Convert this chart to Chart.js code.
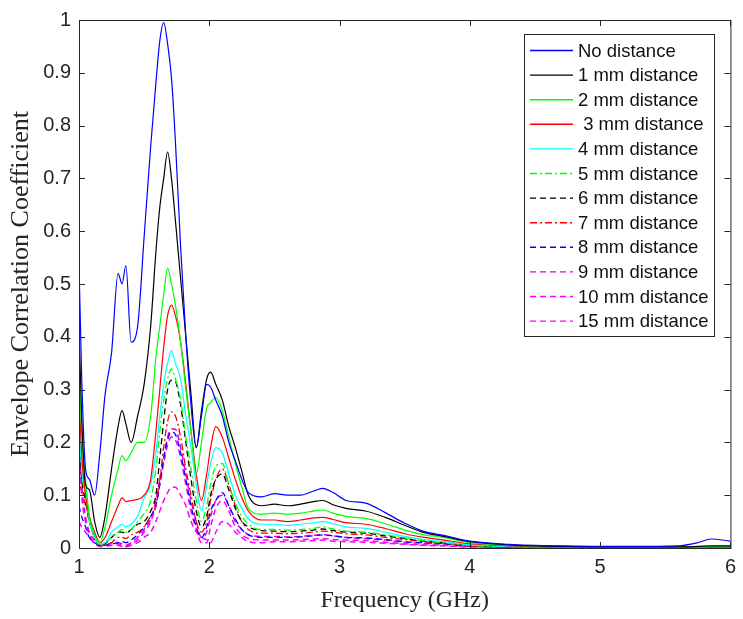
<!DOCTYPE html>
<html>
<head>
<meta charset="utf-8">
<script src="https://cdn.jsdelivr.net/npm/chart.js@4.4.1/dist/chart.umd.min.js"></script>
<style>
  html, body { margin: 0; padding: 0; background: #fff; }
  #wrap { width: 743px; height: 619px; }
</style>
</head>
<body>
<div id="wrap"><canvas id="ecc" width="743" height="619"></canvas></div>
<script>
// frequency grid (GHz)
const freq = [1.00, 1.02, 1.05, 1.08, 1.12, 1.16, 1.20, 1.25, 1.30, 1.33, 1.36, 1.40, 1.45, 1.50, 1.55,
  1.59, 1.62, 1.65, 1.68, 1.71, 1.74, 1.78, 1.82, 1.86, 1.90, 1.94, 1.98, 2.01, 2.05, 2.10,
  2.15, 2.20, 2.25, 2.30, 2.40, 2.50, 2.60, 2.70, 2.80, 2.87, 2.95, 3.05, 3.20, 3.35, 3.50,
  3.65, 3.80, 4.00, 4.30, 4.70, 5.20, 5.60, 5.75, 5.85, 6.00];

const noDist = [0.54, 0.33, 0.15, 0.13, 0.10, 0.18, 0.29, 0.37, 0.52, 0.50, 0.535, 0.39, 0.42, 0.59, 0.76,
  0.88, 0.96, 0.995, 0.955, 0.89, 0.77, 0.57, 0.40, 0.27, 0.19, 0.25, 0.31, 0.305, 0.28, 0.25,
  0.20, 0.165, 0.13, 0.105, 0.097, 0.103, 0.10, 0.10, 0.108, 0.113, 0.105, 0.09, 0.085, 0.067, 0.047,
  0.031, 0.024, 0.013, 0.007, 0.004, 0.003, 0.004, 0.010, 0.017, 0.013];
const mm1 = [0.42, 0.25, 0.12, 0.11, 0.05, 0.02, 0.06, 0.15, 0.23, 0.26, 0.235, 0.20, 0.25, 0.31, 0.42,
  0.56, 0.645, 0.70, 0.75, 0.70, 0.62, 0.51, 0.40, 0.29, 0.19, 0.26, 0.32, 0.333, 0.31, 0.28,
  0.23, 0.19, 0.145, 0.10, 0.08, 0.083, 0.08, 0.083, 0.088, 0.09, 0.082, 0.075, 0.07, 0.058, 0.043,
  0.029, 0.022, 0.012, 0.006, 0.003, 0.002, 0.002, 0.003, 0.004, 0.004];
const mm2 = [0.35, 0.22, 0.13, 0.06, 0.025, 0.01, 0.04, 0.10, 0.15, 0.175, 0.165, 0.18, 0.20, 0.20, 0.25,
  0.36, 0.42, 0.48, 0.53, 0.50, 0.46, 0.39, 0.30, 0.22, 0.14, 0.20, 0.265, 0.275, 0.285, 0.26,
  0.21, 0.16, 0.115, 0.075, 0.064, 0.066, 0.064, 0.066, 0.07, 0.072, 0.066, 0.06, 0.056, 0.046, 0.034,
  0.025, 0.02, 0.01, 0.005, 0.003, 0.002, 0.002, 0.002, 0.003, 0.003];
const mm3 = [0.30, 0.18, 0.10, 0.06, 0.03, 0.01, 0.02, 0.05, 0.08, 0.095, 0.088, 0.09, 0.092, 0.10, 0.13,
  0.22, 0.30, 0.38, 0.44, 0.46, 0.44, 0.39, 0.31, 0.22, 0.14, 0.09, 0.14, 0.19, 0.23, 0.21,
  0.17, 0.13, 0.095, 0.07, 0.053, 0.053, 0.05, 0.053, 0.057, 0.058, 0.054, 0.048, 0.045, 0.037, 0.027,
  0.02, 0.015, 0.008, 0.004, 0.002, 0.002, 0.002, 0.002, 0.002, 0.002];
const mm4 = [0.28, 0.15, 0.11, 0.05, 0.02, 0.008, 0.01, 0.03, 0.04, 0.045, 0.04, 0.045, 0.06, 0.095, 0.12,
  0.18, 0.25, 0.31, 0.35, 0.374, 0.35, 0.32, 0.25, 0.19, 0.12, 0.07, 0.12, 0.16, 0.19, 0.18,
  0.14, 0.10, 0.075, 0.055, 0.045, 0.045, 0.043, 0.045, 0.048, 0.05, 0.046, 0.04, 0.037, 0.03, 0.022,
  0.016, 0.012, 0.006, 0.003, 0.002, 0.002, 0.002, 0.002, 0.002, 0.002];
const mm5 = [0.27, 0.15, 0.10, 0.05, 0.02, 0.005, 0.01, 0.02, 0.03, 0.035, 0.03, 0.035, 0.05, 0.065, 0.09,
  0.15, 0.22, 0.28, 0.32, 0.339, 0.32, 0.28, 0.21, 0.15, 0.09, 0.05, 0.08, 0.12, 0.155, 0.16,
  0.12, 0.085, 0.06, 0.045, 0.035, 0.035, 0.034, 0.035, 0.037, 0.04, 0.036, 0.032, 0.03, 0.025, 0.019,
  0.014, 0.01, 0.005, 0.003, 0.002, 0.002, 0.002, 0.002, 0.002, 0.002];
const mm6 = [0.20, 0.13, 0.09, 0.05, 0.02, 0.005, 0.008, 0.02, 0.03, 0.03, 0.028, 0.035, 0.045, 0.05, 0.07,
  0.10, 0.17, 0.24, 0.30, 0.318, 0.315, 0.27, 0.20, 0.13, 0.07, 0.04, 0.06, 0.10, 0.13, 0.14,
  0.11, 0.075, 0.05, 0.04, 0.033, 0.032, 0.031, 0.032, 0.034, 0.036, 0.033, 0.03, 0.028, 0.023, 0.018,
  0.013, 0.01, 0.005, 0.003, 0.002, 0.002, 0.002, 0.002, 0.002, 0.002];
const mm7 = [0.12, 0.11, 0.08, 0.05, 0.02, 0.005, 0.005, 0.01, 0.02, 0.02, 0.018, 0.025, 0.03, 0.04, 0.06,
  0.08, 0.13, 0.19, 0.24, 0.258, 0.25, 0.21, 0.15, 0.10, 0.05, 0.03, 0.05, 0.09, 0.13, 0.15,
  0.12, 0.08, 0.05, 0.035, 0.028, 0.028, 0.027, 0.028, 0.03, 0.032, 0.03, 0.027, 0.025, 0.02, 0.016,
  0.012, 0.009, 0.004, 0.002, 0.002, 0.002, 0.002, 0.002, 0.002, 0.002];
const mm8 = [0.08, 0.06, 0.04, 0.02, 0.01, 0.005, 0.005, 0.008, 0.01, 0.012, 0.01, 0.015, 0.025, 0.04, 0.06,
  0.08, 0.12, 0.17, 0.205, 0.22, 0.215, 0.18, 0.13, 0.08, 0.04, 0.02, 0.04, 0.07, 0.09, 0.105,
  0.08, 0.055, 0.035, 0.025, 0.02, 0.02, 0.02, 0.021, 0.023, 0.025, 0.023, 0.02, 0.019, 0.016, 0.012,
  0.01, 0.008, 0.004, 0.002, 0.002, 0.002, 0.002, 0.002, 0.002, 0.002];
const mm9 = [0.21, 0.12, 0.06, 0.03, 0.015, 0.005, 0.005, 0.01, 0.01, 0.008, 0.005, 0.01, 0.02, 0.035, 0.055,
  0.09, 0.13, 0.17, 0.21, 0.226, 0.225, 0.19, 0.14, 0.09, 0.05, 0.02, 0.03, 0.06, 0.09, 0.10,
  0.08, 0.05, 0.035, 0.025, 0.022, 0.022, 0.021, 0.022, 0.024, 0.025, 0.023, 0.02, 0.018, 0.015, 0.011,
  0.009, 0.007, 0.003, 0.002, 0.002, 0.002, 0.002, 0.002, 0.002, 0.002];
const mm10 = [0.19, 0.10, 0.05, 0.025, 0.01, 0.003, 0.005, 0.008, 0.008, 0.005, 0.003, 0.008, 0.015, 0.03, 0.05,
  0.08, 0.12, 0.16, 0.195, 0.21, 0.205, 0.17, 0.12, 0.07, 0.035, 0.01, 0.01, 0.04, 0.075, 0.09,
  0.07, 0.04, 0.025, 0.018, 0.015, 0.015, 0.015, 0.016, 0.017, 0.018, 0.016, 0.015, 0.014, 0.011, 0.008,
  0.006, 0.005, 0.003, 0.002, 0.002, 0.002, 0.002, 0.002, 0.002, 0.002];
const mm15 = [0.05, 0.04, 0.03, 0.02, 0.008, 0.003, 0.003, 0.005, 0.005, 0.003, 0.002, 0.005, 0.01, 0.02, 0.03,
  0.05, 0.07, 0.09, 0.105, 0.115, 0.115, 0.10, 0.08, 0.05, 0.03, 0.02, 0.015, 0.01, 0.03, 0.05,
  0.045, 0.03, 0.02, 0.012, 0.01, 0.012, 0.012, 0.013, 0.014, 0.015, 0.013, 0.012, 0.011, 0.009, 0.007,
  0.005, 0.004, 0.002, 0.002, 0.001, 0.001, 0.001, 0.001, 0.001, 0.001];

const seriesNames = ['No distance', '1 mm distance', '2 mm distance', ' 3 mm distance', '4 mm distance',
  '5 mm distance', '6 mm distance', '7 mm distance', '8 mm distance', '9 mm distance',
  '10 mm distance', '15 mm distance'];
const seriesValues = [noDist, mm1, mm2, mm3, mm4, mm5, mm6, mm7, mm8, mm9, mm10, mm15];
const seriesColors = ['#0000ff', '#000000', '#00ff00', '#ff0000', '#00ffff', '#00ff00',
  '#000000', '#ff0000', '#0000ff', '#dd00dd', '#ff00ff', '#ff00ff'];
const dash = [6, 4];
const dashDot = [7, 3, 2, 3];
const seriesDash = [[], [], [], [], [], dashDot, dash, dashDot, dash, dash, dash, dash];

const xTicks = [1, 2, 3, 4, 5, 6];
const yTicks = [0, 0.1, 0.2, 0.3, 0.4, 0.5, 0.6, 0.7, 0.8, 0.9, 1];

const axisColor = '#262626';

// MATLAB style box, inward ticks and legend
const boxPlugin = {
  id: 'box',
  afterDraw(chart) {
    const { ctx, chartArea: a, scales } = chart;
    ctx.save();
    ctx.strokeStyle = axisColor;
    ctx.lineWidth = 1;
    ctx.setLineDash([]);
    ctx.strokeRect(a.left + 0.5, a.top + 0.5, a.right - a.left, a.bottom - a.top);
    const tl = 6;
    ctx.beginPath();
    xTicks.forEach(v => {
      const px = Math.round(scales.x.getPixelForValue(v)) + 0.5;
      ctx.moveTo(px, a.bottom); ctx.lineTo(px, a.bottom - tl);
      ctx.moveTo(px, a.top); ctx.lineTo(px, a.top + tl);
    });
    yTicks.forEach(v => {
      const py = Math.round(scales.y.getPixelForValue(v)) + 0.5;
      ctx.moveTo(a.left, py); ctx.lineTo(a.left + tl, py);
      ctx.moveTo(a.right, py); ctx.lineTo(a.right - tl, py);
    });
    ctx.stroke();

    // legend
    const lx = 524, ly = 34, lw = 190, lh = 302;
    ctx.fillStyle = '#fff';
    ctx.fillRect(lx, ly, lw, lh);
    ctx.strokeStyle = axisColor;
    ctx.strokeRect(lx + 0.5, ly + 0.5, lw, lh);
    ctx.font = '18.5px "Liberation Sans", Arial, sans-serif';
    ctx.textBaseline = 'middle';
    chart.data.datasets.forEach((ds, i) => {
      const y = ly + 16.5 + i * 24.6;
      ctx.strokeStyle = ds.borderColor;
      ctx.lineWidth = 1.4;
      ctx.setLineDash(ds.borderDash);
      ctx.beginPath();
      ctx.moveTo(530, y); ctx.lineTo(573, y);
      ctx.stroke();
      ctx.setLineDash([]);
      ctx.fillStyle = '#111';
      ctx.fillText(ds.label, 578, y + 1);
    });
    ctx.restore();
  }
};

const datasets = seriesNames.map((name, i) => ({
  label: name,
  data: freq.map((f, j) => ({ x: f, y: seriesValues[i][j] })),
  borderColor: seriesColors[i],
  borderWidth: i >= 9 ? 1.5 : (i >= 5 ? 1.3 : 1.2),
  borderDash: seriesDash[i],
  pointRadius: 0,
  fill: false,
  cubicInterpolationMode: 'monotone'
}));

new Chart(document.getElementById('ecc'), {
  type: 'line',
  data: { datasets },
  options: {
    responsive: false,
    animation: false,
    layout: { padding: { top: 13, right: 7, left: 0, bottom: 0 } },
    plugins: { legend: { display: false }, tooltip: { enabled: false } },
    scales: {
      x: {
        type: 'linear', min: 1, max: 6,
        afterBuildTicks: s => { s.ticks = xTicks.map(v => ({ value: v })); },
        ticks: { color: axisColor, font: { family: '"Liberation Sans", Arial', size: 20 }, padding: 7, maxRotation: 0 },
        grid: { display: false, drawTicks: false },
        border: { display: false },
        title: { display: true, text: 'Frequency (GHz)', color: axisColor,
          font: { family: '"Liberation Serif", "Times New Roman", serif', size: 24 }, padding: { top: 2, bottom: 4 } },
        afterFit: s => { s.height = 71; }
      },
      y: {
        min: 0, max: 1,
        afterBuildTicks: s => { s.ticks = yTicks.map(v => ({ value: v })); },
        ticks: { color: axisColor, font: { family: '"Liberation Sans", Arial', size: 20 }, padding: 8,
          callback: v => String(+v.toFixed(1)) },
        grid: { display: false, drawTicks: false },
        border: { display: false },
        title: { display: true, text: 'Envelope Correlation Coefficient', color: axisColor,
          font: { family: '"Liberation Serif", "Times New Roman", serif', size: 26 }, padding: { top: 6, bottom: 0 } },
        afterFit: s => { s.width = 79; }
      }
    }
  },
  plugins: [boxPlugin]
});
</script>
</body>
</html>
